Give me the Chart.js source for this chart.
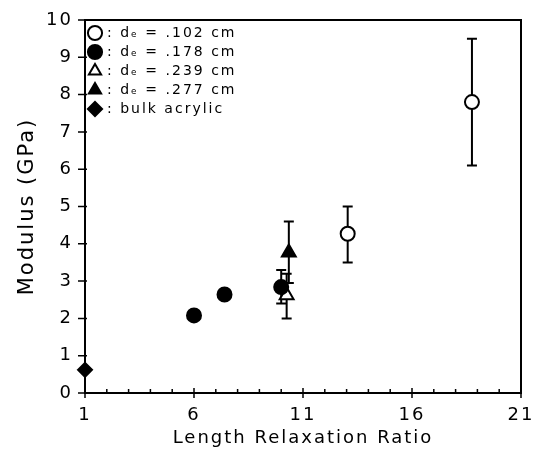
<!DOCTYPE html>
<html>
  <head>
    <meta charset="UTF-8">
    <title>Modulus vs Length Relaxation Ratio</title>
    <style>
      html, body { margin: 0; padding: 0; background: #fff; }
      .canvas { width: 533px; height: 449px; position: relative; }
    </style>
  </head>
  <body>
    <div class="canvas">
      <canvas id="canvas"></canvas>
    </div>
    <script src="https://cdn.jsdelivr.net/npm/chart.js@4.4.1/dist/chart.umd.min.js"></script>
    <script>
    // fibre diameters (legend)
    var seriesLabels = [': d\u2091 = .102 cm', ': d\u2091 = .178 cm', ': d\u2091 = .239 cm', ': d\u2091 = .277 cm', ': bulk acrylic'];

    // d = .102 cm (open circles)
    var x102 = [13.05, 18.75];
    var y102 = [4.27, 7.8];
    var lo102 = [3.5, 6.1];
    var hi102 = [5.0, 9.5];

    // d = .178 cm (filled circles)
    var x178 = [6.0, 7.4, 10.0];
    var y178 = [2.08, 2.64, 2.84];
    var lo178 = [null, null, 2.4];
    var hi178 = [null, null, 3.3];

    // d = .239 cm (open triangle)
    var x239 = [10.25];
    var y239 = [2.62];
    var lo239 = [2.0];
    var hi239 = [3.2];

    // d = .277 cm (filled triangle)
    var x277 = [10.35];
    var y277 = [3.77];
    var lo277 = [2.95];
    var hi277 = [4.6];

    // bulk acrylic
    var xBulk = [1];
    var yBulk = [0.62];

    function toPoints(xs, ys) {
        return xs.map(function(x, i) { return {x: x, y: ys[i]}; });
    }

    // error bars, same order as the datasets
    var errorBars = [
        {lo: lo102, hi: hi102},
        {lo: lo178, hi: hi178},
        {lo: lo239, hi: hi239},
        {lo: lo277, hi: hi277},
        null
    ];

    var FONT = "'DejaVu Sans', sans-serif";

    // spaced-out lettering like the original
    var spacing = {
        id: 'spacing',
        beforeLayout: function(chart) { chart.ctx.letterSpacing = '2px'; },
        beforeDraw: function(chart) { chart.ctx.letterSpacing = '2px'; }
    };

    // frame, tick marks and error bars drawn under the symbols
    var frameAndErrors = {
        id: 'frameAndErrors',
        beforeDatasetsDraw: function(chart) {
            var ctx = chart.ctx;
            var a = chart.chartArea;
            var xs = chart.scales.x, ys = chart.scales.y;
            ctx.save();
            ctx.strokeStyle = '#000';
            ctx.lineWidth = 2;
            ctx.strokeRect(a.left, a.top, a.right - a.left, a.bottom - a.top);

            ctx.lineWidth = 1.5;
            ctx.beginPath();
            xs.ticks.forEach(function(t) {
                var px = xs.getPixelForValue(t.value);
                if ((t.value - 1) % 5 === 0) {
                    ctx.moveTo(px, a.bottom + 5);
                    ctx.lineTo(px, a.bottom - 5);
                } else {
                    ctx.moveTo(px, a.bottom);
                    ctx.lineTo(px, a.bottom - 4);
                }
            });
            ys.ticks.forEach(function(t) {
                var py = ys.getPixelForValue(t.value);
                ctx.moveTo(a.left - 7, py);
                ctx.lineTo(a.left + 2, py);
            });
            ctx.stroke();

            ctx.lineWidth = 2;
            chart.data.datasets.forEach(function(ds, di) {
                var eb = errorBars[di];
                if (!eb) return;
                ds.data.forEach(function(p, i) {
                    if (eb.lo[i] == null) return;
                    var px = xs.getPixelForValue(p.x);
                    var pl = ys.getPixelForValue(eb.lo[i]);
                    var ph = ys.getPixelForValue(eb.hi[i]);
                    ctx.beginPath();
                    ctx.moveTo(px, pl);
                    ctx.lineTo(px, ph);
                    ctx.moveTo(px - 5, pl);
                    ctx.lineTo(px + 5, pl);
                    ctx.moveTo(px - 5, ph);
                    ctx.lineTo(px + 5, ph);
                    ctx.stroke();
                });
            });
            ctx.restore();
        }
    };

    function series(label, xs, ys, style, fill, radius) {
        return {
            label: label,
            data: toPoints(xs, ys),
            pointStyle: style,
            pointRadius: radius,
            pointHoverRadius: radius,
            pointBorderWidth: 2,
            borderWidth: 2,
            backgroundColor: fill,
            borderColor: '#000',
            pointBackgroundColor: fill,
            pointBorderColor: '#000',
            showLine: false,
            clip: false
        };
    }

    var ctx = document.getElementById('canvas').getContext('2d');
    var chart = new Chart(ctx, {
        type: 'scatter',
        data: {
            datasets: [
                series(seriesLabels[0], x102, y102, 'circle', '#fff', 7),
                series(seriesLabels[1], x178, y178, 'circle', '#000', 7),
                series(seriesLabels[2], x239, y239, 'triangle', '#fff', 8),
                series(seriesLabels[3], x277, y277, 'triangle', '#000', 8),
                series(seriesLabels[4], xBulk, yBulk, 'rectRot', '#000', 7)
            ]
        },
        options: {
            responsive: true,
            maintainAspectRatio: false,
            animation: false,
            events: [],
            layout: { padding: { top: 20, right: 12, left: 0, bottom: 0 } },
            plugins: {
                tooltip: { enabled: false },
                legend: {
                    position: 'chartArea',
                    align: 'start',
                    // blank title only pushes the rows below the top of the frame
                    title: {
                        display: true,
                        text: ' ',
                        padding: { top: 4, bottom: 5 },
                        font: { family: FONT, size: 10 }
                    },
                    labels: {
                        usePointStyle: true,
                        boxWidth: 10,
                        boxHeight: 10,
                        padding: 5,
                        color: '#000',
                        font: { family: FONT, size: 14 }
                    }
                }
            },
            scales: {
                x: {
                    type: 'linear',
                    min: 1,
                    max: 21,
                    grid: { display: false },
                    border: { display: false },
                    afterFit: function(s) {
                        s.height = 56;
                        s.paddingLeft = 0;
                        s.paddingRight = 0;
                    },
                    ticks: {
                        stepSize: 1,
                        autoSkip: false,
                        maxRotation: 0,
                        padding: 4,
                        color: '#000',
                        font: { family: FONT, size: 18 },
                        callback: function(v) { return (v - 1) % 5 === 0 ? String(v) : ''; }
                    },
                    title: {
                        display: true,
                        text: 'Length Relaxation Ratio',
                        color: '#000',
                        padding: { top: 0, bottom: 0 },
                        font: { family: FONT, size: 18 }
                    }
                },
                y: {
                    type: 'linear',
                    min: 0,
                    max: 10,
                    grid: { display: false },
                    border: { display: false },
                    afterFit: function(s) {
                        s.width = 85;
                        s.paddingTop = 0;
                        s.paddingBottom = 0;
                    },
                    ticks: {
                        stepSize: 1,
                        padding: 4,
                        color: '#000',
                        font: { family: FONT, size: 18 }
                    },
                    title: {
                        display: true,
                        text: 'Modulus (GPa)',
                        color: '#000',
                        padding: { top: 15, bottom: 0 },
                        font: { family: FONT, size: 21 }
                    }
                }
            }
        },
        plugins: [spacing, frameAndErrors]
    });
    </script>
  </body>
</html>
